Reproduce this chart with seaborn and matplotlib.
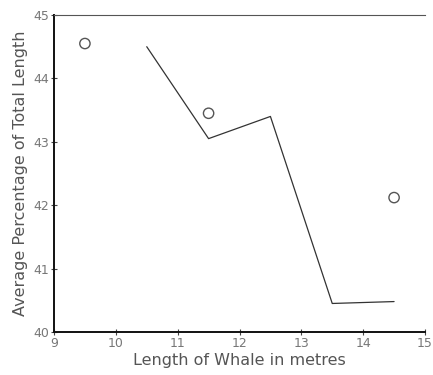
import matplotlib
matplotlib.use("Agg")
import matplotlib.pyplot as plt
import seaborn as sns
import pandas as pd

# Data
line_x = [10.5, 11.5, 12.5, 13.5, 14.5]
line_y = [44.5, 43.05, 43.4, 40.45, 40.48]
circle_x = [9.5, 11.5, 14.5]
circle_y = [44.55, 43.45, 42.12]
x_ticks = [9, 10, 11, 12, 13, 14, 15]
y_ticks = [40, 41, 42, 43, 44, 45]

sns.set_theme(style="white")
plt.rcParams['font.family'] = ['DejaVu Sans']

fig = plt.figure(figsize=(4.33, 3.75), dpi=100)
ax = fig.add_axes([54/433, 1 - 332/375, (425 - 54)/433, (332 - 15)/375])

line_df = pd.DataFrame({"x": line_x, "y": line_y})
circ_df = pd.DataFrame({"x": circle_x, "y": circle_y})

sns.lineplot(data=line_df, x="x", y="y", ax=ax, color="#333333", linewidth=0.9)
sns.scatterplot(data=circ_df, x="x", y="y", ax=ax, s=55, facecolors="none",
                edgecolor="#555555", linewidth=1.0, marker="o")

ax.set_xlim(9, 15)
ax.set_ylim(40, 45)
ax.set_xticks(x_ticks)
ax.set_yticks(y_ticks)
ax.set_xticklabels([str(t) for t in x_ticks], color="#777777", fontsize=9)
ax.set_yticklabels([str(t) for t in y_ticks], color="#777777", fontsize=9)
ax.tick_params(axis="both", direction="inout", length=5, width=0.8, color="#444444",
               bottom=True, left=True, pad=1)

for s in ["left", "bottom"]:
    ax.spines[s].set_color("#111111")
    ax.spines[s].set_linewidth(1.4)
ax.spines["top"].set_color("#555555")
ax.spines["top"].set_linewidth(0.8)
ax.spines["right"].set_visible(False)

ax.set_xlabel("Length of Whale in metres", fontsize=11.5, color="#555555", labelpad=2)
ax.set_ylabel("Average Percentage of Total Length", fontsize=11.5, color="#555555", labelpad=4)

fig.savefig("out.png", dpi=100, facecolor="white")
